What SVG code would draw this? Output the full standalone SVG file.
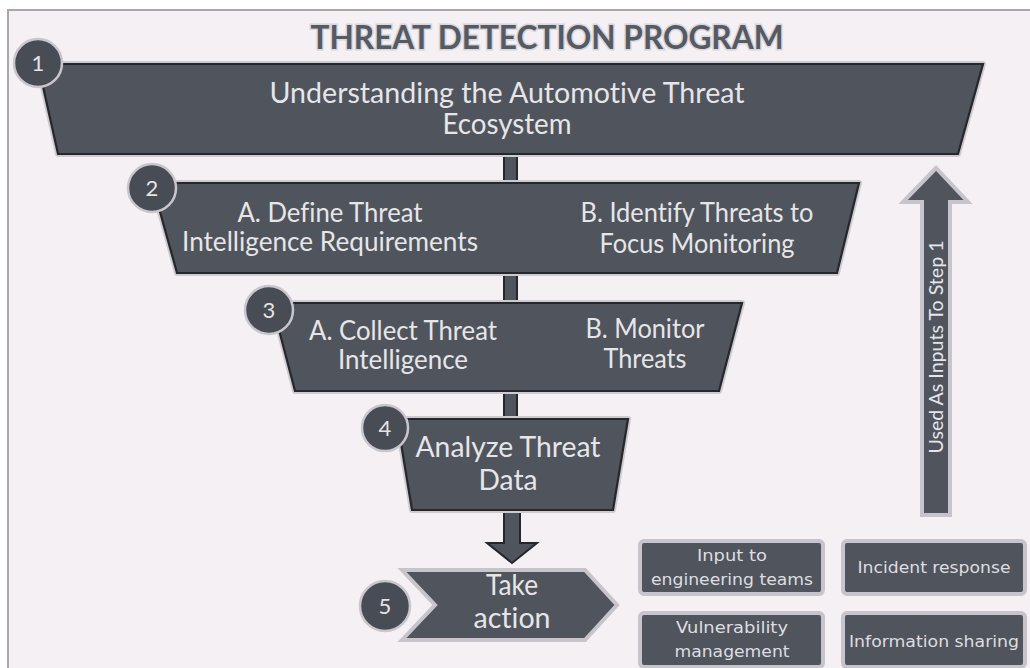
<svg xmlns="http://www.w3.org/2000/svg" width="1030" height="668" viewBox="0 0 1030 668">
  <style>
    text { font-variant-ligatures: none; }
    .panel { fill: #f4f0f4; stroke: #a9a7ab; stroke-width: 2; }
    .halo { fill: none; stroke: #cdcad1; stroke-width: 6; stroke-linejoin: round; }
    .step { fill: #50545d; stroke: #25272b; stroke-width: 2.2; stroke-linejoin: miter; }
    .soft { fill: #50545d; stroke: #c7c4cc; stroke-width: 4; stroke-linejoin: miter; }
    .badge { fill: #484c54; stroke: #c9c6ce; stroke-width: 2.5; }
    .num { font-family: Lato, "Liberation Sans", sans-serif; font-size: 22px; fill: #e4e4e6; text-anchor: middle; }
    .lbl { font-family: Lato, "Liberation Sans", sans-serif; fill: #e6e6e8; text-anchor: middle; }
    .out { font-family: "DejaVu Sans", Verdana, sans-serif; font-size: 16.5px; fill: #dedee0; text-anchor: middle; }
    .title { font-family: Lato, "Liberation Sans", sans-serif; font-weight: bold; font-size: 32px; fill: #555a63; text-anchor: middle; stroke: #d9d6dc; stroke-width: 3; paint-order: stroke; }
  </style>

  <!-- background panel -->
  <rect x="0" y="0" width="1030" height="668" fill="#ffffff"/>
  <rect class="panel" x="8" y="10" width="1030" height="670"/>

  <text class="title" x="547" y="49" textLength="473" lengthAdjust="spacingAndGlyphs">THREAT DETECTION PROGRAM</text>

  <!-- connectors: spine, arrow to step 5, feedback arrow -->
  <g id="connectors">
    <rect x="504" y="150" width="13" height="362" fill="#50545d" stroke="#25272b" stroke-width="2"/>
    <path d="M504,510 L520,510 L520,543 L537,543 L512,563 L487,543 L504,543 Z" fill="#50545d" stroke="#25272b" stroke-width="2" stroke-linejoin="miter"/>
    <g id="feedback">
      <path d="M922,515 L922,202 L903,202 L936,168 L968,202 L950,202 L950,515 Z" class="soft" stroke-width="5"/>
      <text class="lbl" font-size="19" transform="translate(943,347) rotate(-90)" textLength="213" lengthAdjust="spacingAndGlyphs">Used As Inputs To Step 1</text>
    </g>
  </g>

  <!-- step 1 -->
  <g id="step1">
    <path class="halo" d="M38,64 L983,64 L958,154 L58,154 Z"/>
    <path class="step" d="M38,64 L983,64 L958,154 L58,154 Z"/>
    <text class="lbl" font-size="28.5" x="507" y="103" textLength="475" lengthAdjust="spacingAndGlyphs">Understanding the Automotive Threat</text>
    <text class="lbl" font-size="28.5" x="507" y="134" textLength="129" lengthAdjust="spacingAndGlyphs">Ecosystem</text>
    <circle class="badge" cx="38" cy="63" r="24"/>
    <text class="num" x="38" y="71">1</text>
  </g>

  <!-- step 2 -->
  <g id="step2">
    <path class="halo" d="M152,183 L859,183 L837,273 L177,273 Z"/>
    <path class="step" d="M152,183 L859,183 L837,273 L177,273 Z"/>
    <text class="lbl" font-size="26" x="330" y="222" textLength="185" lengthAdjust="spacingAndGlyphs">A. Define Threat</text>
    <text class="lbl" font-size="26" x="330" y="251" textLength="296" lengthAdjust="spacingAndGlyphs">Intelligence Requirements</text>
    <text class="lbl" font-size="26" x="697" y="222" textLength="233" lengthAdjust="spacingAndGlyphs">B. Identify Threats to</text>
    <text class="lbl" font-size="26" x="697" y="253" textLength="195" lengthAdjust="spacingAndGlyphs">Focus Monitoring</text>
    <circle class="badge" cx="152" cy="188" r="24"/>
    <text class="num" x="152" y="196">2</text>
  </g>

  <!-- step 3 -->
  <g id="step3">
    <path class="halo" d="M272,303 L742,303 L719,391 L295,391 Z"/>
    <path class="step" d="M272,303 L742,303 L719,391 L295,391 Z"/>
    <text class="lbl" font-size="26" x="403" y="340" textLength="188" lengthAdjust="spacingAndGlyphs">A. Collect Threat</text>
    <text class="lbl" font-size="26" x="403" y="369" textLength="130" lengthAdjust="spacingAndGlyphs">Intelligence</text>
    <text class="lbl" font-size="26" x="645" y="338" textLength="119" lengthAdjust="spacingAndGlyphs">B. Monitor</text>
    <text class="lbl" font-size="26" x="645" y="368" textLength="83" lengthAdjust="spacingAndGlyphs">Threats</text>
    <circle class="badge" cx="269" cy="310" r="24"/>
    <text class="num" x="269" y="318">3</text>
  </g>

  <!-- step 4 -->
  <g id="step4">
    <path class="halo" d="M397,419 L628,419 L613,510 L412,510 Z"/>
    <path class="step" d="M397,419 L628,419 L613,510 L412,510 Z"/>
    <text class="lbl" font-size="28" x="508" y="457" textLength="185" lengthAdjust="spacingAndGlyphs">Analyze Threat</text>
    <text class="lbl" font-size="28" x="508" y="490" textLength="59" lengthAdjust="spacingAndGlyphs">Data</text>
    <circle class="badge" cx="385" cy="428" r="23"/>
    <text class="num" x="385" y="436">4</text>
  </g>

  <!-- step 5 -->
  <g id="step5">
    <path class="soft" d="M402,570 L585,570 L617,605 L585,640 L402,640 L435,605 Z"/>
    <text class="lbl" font-size="28" x="512" y="595" textLength="52" lengthAdjust="spacingAndGlyphs">Take</text>
    <text class="lbl" font-size="28" x="512" y="628" textLength="77" lengthAdjust="spacingAndGlyphs">action</text>
    <circle class="badge" cx="385" cy="606" r="25" stroke-width="3"/>
    <text class="num" x="385" y="614">5</text>
  </g>

  <!-- outcomes -->
  <g id="out-engineering">
    <rect class="soft" x="640" y="541" width="183" height="53" rx="4" stroke-width="3"/>
    <text class="out" x="732" y="561" textLength="70" lengthAdjust="spacingAndGlyphs">Input to</text>
    <text class="out" x="732" y="585" textLength="162" lengthAdjust="spacingAndGlyphs">engineering teams</text>
  </g>
  <g id="out-incident">
    <rect class="soft" x="843" y="541" width="182" height="53" rx="4" stroke-width="3"/>
    <text class="out" x="934" y="573" textLength="153" lengthAdjust="spacingAndGlyphs">Incident response</text>
  </g>
  <g id="out-vulnerability">
    <rect class="soft" x="640" y="613" width="183" height="54" rx="4" stroke-width="3"/>
    <text class="out" x="732" y="633" textLength="112" lengthAdjust="spacingAndGlyphs">Vulnerability</text>
    <text class="out" x="732" y="657" textLength="115" lengthAdjust="spacingAndGlyphs">management</text>
  </g>
  <g id="out-sharing">
    <rect class="soft" x="843" y="613" width="182" height="54" rx="4" stroke-width="3"/>
    <text class="out" x="934" y="647" textLength="170" lengthAdjust="spacingAndGlyphs">Information sharing</text>
  </g>
</svg>
